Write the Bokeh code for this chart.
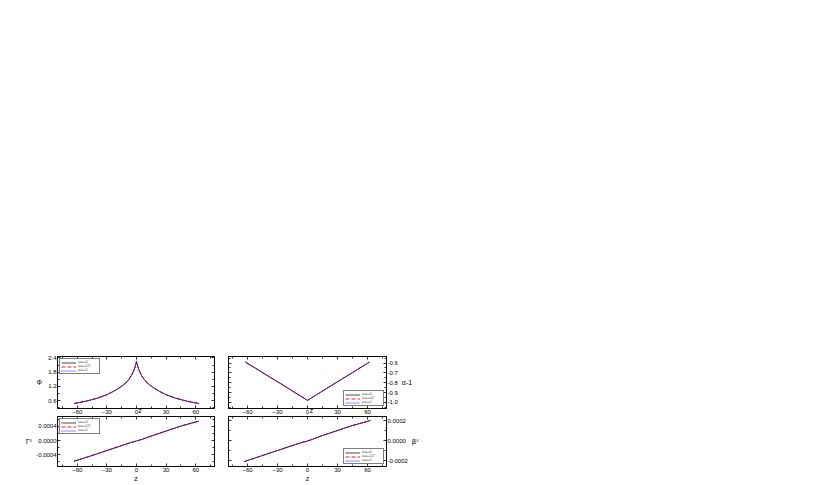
from bokeh.plotting import figure
from bokeh.layouts import column, row
from bokeh.models import LinearAxis, FixedTicker, PrintfTickFormatter, Range1d, Legend, LegendItem
from bokeh.embed import file_html
from bokeh.resources import INLINE

FONT = "Liberation Sans"

# ---------------- data ----------------
series_labels = ["a=a\u2080=0", "a=a\u2080=1/2", "a=a\u2080=1"]
series_colors = ["#333333", "red", "blue"]
series_dash = ["solid", "4 2", "1 1"]

x_ticks = [-60, -30, 0, 30, 60]
x_minor = [-75, -45, -15, 15, 45, 75]

# Phi
z_phi = [-63, -50, -40, -30, -23, -17, -12, -8, -5, -3, -2, -1, 0, 1, 2, 3, 5, 8, 12, 17, 23, 30, 40, 50, 63]
phi_1 = [0.48, 0.59, 0.70, 0.85, 1.00, 1.15, 1.30, 1.48, 1.67, 1.84, 1.95, 2.08, 2.25,
         2.08, 1.95, 1.84, 1.67, 1.48, 1.30, 1.15, 1.00, 0.85, 0.70, 0.59, 0.48]
phi_2 = list(phi_1)
phi_3 = list(phi_1)
phi_ticks = [0.6, 1.2, 1.8, 2.4]
phi_minor = [0.3, 0.9, 1.5, 2.1]

# alpha - 1
z_alpha = [-62, -50, -40, -30, -20, -10, -5, -2, 0, 2, 5, 10, 20, 30, 40, 50, 62]
alpha_1 = [-0.59, -0.665, -0.728, -0.79, -0.853, -0.917, -0.948, -0.968, -0.98,
           -0.968, -0.948, -0.917, -0.853, -0.79, -0.728, -0.665, -0.59]
alpha_2 = list(alpha_1)
alpha_3 = list(alpha_1)
alpha_ticks = [-1.0, -0.9, -0.8, -0.7, -0.6]
alpha_minor = [-1.05, -0.95, -0.85, -0.75, -0.65, -0.55]

# Gamma^z
z_gb = [-63, -45, -30, -15, -5, 0, 5, 15, 30, 45, 63]
gamma_1 = [-0.00058, -0.00042, -0.00028, -0.00014, -0.00005, -0.00001,
           0.00003, 0.00013, 0.00027, 0.00041, 0.00055]
gamma_2 = list(gamma_1)
gamma_3 = list(gamma_1)
gamma_ticks = [-0.0004, 0.0, 0.0004]
gamma_minor = [-0.0006, -0.0002, 0.0002, 0.0006]

# beta^z
beta_1 = [-0.00021, -0.00015, -0.0001, -0.00005, -0.000018, -0.000005,
          0.000012, 0.00005, 0.0001, 0.00015, 0.0002]
beta_2 = list(beta_1)
beta_3 = list(beta_1)
beta_ticks = [-0.0002, 0.0, 0.0002]
beta_minor = [-0.0001, 0.0001]


def style_axis(ax, labels=True):
    ax.axis_line_color = "black"
    ax.axis_line_width = 0.8
    ax.major_tick_in = 3
    ax.major_tick_out = 0
    ax.minor_tick_in = 2
    ax.minor_tick_out = 0
    ax.major_tick_line_color = "black"
    ax.minor_tick_line_color = "black"
    ax.major_tick_line_width = 0.8
    ax.minor_tick_line_width = 0.8
    ax.major_label_text_font = FONT
    ax.major_label_text_color = "black"
    ax.axis_label_text_font = FONT
    ax.axis_label_text_font_style = "normal"
    ax.axis_label_text_color = "black"
    if labels:
        ax.major_label_text_font_size = "6px"
        ax.major_label_standoff = 1
    else:
        ax.major_label_text_font_size = "0px"
        ax.major_label_text_alpha = 0
        ax.major_label_standoff = 0


def panel(xs, ys_list, x_range, y_range, y_ticks, y_minor, y_fmt, y_label, y_side,
          width, height, mb_left, mb_right, mb_top, x_label, x_label_standoff,
          legend_loc, y_label_standoff, y_label_font):
    p = figure(width=width, height=height,
               x_range=Range1d(*x_range), y_range=Range1d(*y_range),
               output_backend="svg", toolbar_location=None, tools="",
               x_axis_location="below", y_axis_location=y_side,
               min_border_left=mb_left, min_border_right=mb_right,
               min_border_top=mb_top, min_border_bottom=0)
    p.xgrid.visible = False
    p.ygrid.visible = False
    p.outline_line_color = "black"
    p.outline_line_width = 0.8
    p.background_fill_color = "white"
    p.border_fill_color = "white"

    other_y = "left" if y_side == "right" else "right"
    p.add_layout(LinearAxis(), "above")
    p.add_layout(LinearAxis(), other_y)

    xt = FixedTicker(ticks=x_ticks, minor_ticks=x_minor)
    yt = FixedTicker(ticks=y_ticks, minor_ticks=y_minor)
    for ax in p.below:
        if isinstance(ax, LinearAxis):
            ax.ticker = xt
            style_axis(ax, True)
            ax.axis_label = x_label
            ax.axis_label_text_font_size = "7px"
            ax.axis_label_standoff = x_label_standoff
    for ax in p.above:
        if isinstance(ax, LinearAxis):
            ax.ticker = xt
            style_axis(ax, False)
    for ax in getattr(p, y_side):
        if isinstance(ax, LinearAxis):
            ax.ticker = yt
            ax.formatter = PrintfTickFormatter(format=y_fmt)
            style_axis(ax, True)
            ax.axis_label = y_label
            ax.axis_label_text_font = y_label_font
            ax.axis_label_text_font_size = "7px"
            ax.axis_label_orientation = "horizontal"
            ax.axis_label_standoff = y_label_standoff
    for ax in getattr(p, other_y):
        if isinstance(ax, LinearAxis):
            ax.ticker = yt
            style_axis(ax, False)

    items = []
    for ys, lab, col, dash in zip(ys_list, series_labels, series_colors, series_dash):
        r = p.line(xs, ys, line_color=col, line_width=0.9, line_dash=dash)
        items.append(LegendItem(label=lab, renderers=[r]))
    leg = Legend(items=items, location=legend_loc,
                 label_text_font=FONT, label_text_font_size="3px",
                 glyph_width=15, glyph_height=3, label_height=3,
                 label_standoff=2, spacing=0, padding=1, margin=2,
                 border_line_color="black", border_line_width=0.6,
                 background_fill_alpha=1)
    p.add_layout(leg)
    return p


TOP_H = 416
BOT_H = 68
L_W = 220
R_W = 211
ZTOP = "\u00a0\u00a0\u00a0\u00a0z"

tl = panel(z_phi, [phi_1, phi_2, phi_3], (-80, 79), (0.27, 2.46),
           phi_ticks, phi_minor, "%.1f", "\u03a6", "left",
           L_W, TOP_H, 57, 6, 356, ZTOP, -10, "top_left", 3, FONT)
tr = panel(z_alpha, [alpha_1, alpha_2, alpha_3], (-79, 79), (-1.063, -0.533),
           alpha_ticks, alpha_minor, "%.1f", "\u03b1-1", "right",
           R_W, TOP_H, 8, 45, 356, ZTOP, -10, "bottom_right", 1, FONT)
bl = panel(z_gb, [gamma_1, gamma_2, gamma_3], (-80, 79), (-0.00073, 0.00068),
           gamma_ticks, gamma_minor, "%.4f", "\u0393\u1dbb", "left",
           L_W, BOT_H, 57, 6, 0, "z", 0, "top_left", 1, "DejaVu Sans")
br = panel(z_gb, [beta_1, beta_2, beta_3], (-79, 79), (-0.00026, 0.00024),
           beta_ticks, beta_minor, "%.4f", "\u03b2\u1dbb", "right",
           R_W, BOT_H, 8, 45, 0, "z", 0, "bottom_right", 1, "DejaVu Sans")

layout = column(row(tl, tr), row(bl, br))

open("out.html", "w").write(file_html(layout, INLINE))
